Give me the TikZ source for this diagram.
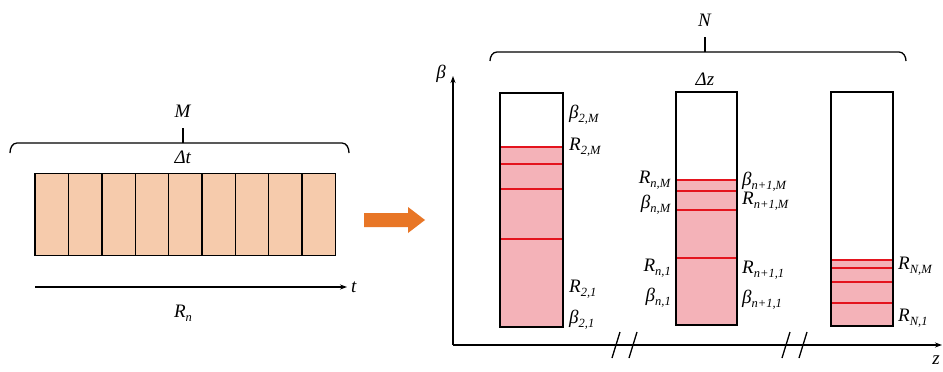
\documentclass[tikz,border=0pt]{standalone}
\usepackage{fontspec}
\setmainfont{Liberation Serif}
\usetikzlibrary{arrows.meta}
\definecolor{cellorange}{RGB}{246,203,172}
\definecolor{pinkfill}{RGB}{244,178,184}
\definecolor{redline}{RGB}{228,20,30}
\definecolor{arroworange}{RGB}{232,118,38}
\newcommand{\lab}[2]{\textit{#1}\raisebox{-0.45ex}{\fontsize{12.5}{13}\selectfont\textit{#2}}}
\tikzset{
  x=1pt,y=-1pt,
  lbl/.style={font=\fontsize{19}{21}\selectfont,inner sep=0pt},
  cell/.style={draw=black,line width=1.5pt,fill=cellorange},
  col/.style={draw=black,line width=1.3pt},
  rl/.style={draw=redline,line width=1.4pt},
  brace/.style={draw=black,line width=1.3pt},
  axis/.style={draw=black,line width=1.3pt,-{Stealth[length=7pt,width=5pt]}},
  brk/.style={draw=black,line width=1.3pt},
}
\begin{document}
\begin{tikzpicture}
\useasboundingbox[fill=white] (0,0) rectangle (943,372);
% ---------- left part ----------
\draw[brace] (10,153) to[out=90,in=180] (17,143) -- (342,143) to[out=0,in=90] (349,153);
\draw[brace] (183,143) -- (183,128);
\node[lbl] (M) at (183,111) {\textit{M}};
\node[lbl] (dt) at (183,157) {\textit{Δt}};
\foreach \xa/\xb in {35/68.5,68.5/102,102/135.5,135.5/168.5,168.5/202,202/235.5,235.5/268.5,268.5/302,302/335.5}{
  \draw[cell] (\xa,173.5) rectangle (\xb,255.5);
}
\coordinate (ta) at (35,287);
\coordinate (tb) at (347,287);
\draw[axis,line width=1.1pt] (ta) -- (tb);
\node[lbl,anchor=west] (t) at (351,287) {\textit{t}};
\node[lbl] (Rn) at (183,313) {\lab{R}{n}};
% ---------- orange arrow ----------
\fill[arroworange] (364,213) -- (408,213) -- (408,207) -- (425,220) -- (408,233) -- (408,227) -- (364,227) -- cycle;
% ---------- right part ----------
\coordinate (O) at (453,345);
\coordinate (btop) at (453,76);
\coordinate (zend) at (942,345);
\draw[axis] (O) -- (btop);
\draw[axis] (O) -- (zend);
\node[lbl] (beta) at (441,74) {\textit{β}};
\node[lbl] (z) at (936,360) {\textit{z}};
% break marks
\draw[brk] (612,358) -- (620,332);
\draw[brk] (629,358) -- (637,332);
\draw[brk] (782,358) -- (790,332);
\draw[brk] (799,358) -- (807,332);
% brace N
\draw[brace] (490,61) to[out=90,in=180] (497,52) -- (899,52) to[out=0,in=90] (906,61);
\draw[brace] (705,52) -- (705,37);
\node[lbl] (N) at (705,20) {\textit{N}};
\node[lbl] (dz) at (705,79) {\textit{Δz}};
% column 1
\fill[pinkfill] (500,147) rectangle (563,327);
\draw[rl] (500,147) -- (563,147);
\draw[rl] (500,164) -- (563,164);
\draw[rl] (500,189) -- (563,189);
\draw[rl] (500,239) -- (563,239);
\draw[col] (500,93) rectangle (563,327);
\node[lbl,anchor=west] (b2M) at (569,115) {\lab{β}{2,M}};
\node[lbl,anchor=west] (R2M) at (569,147) {\lab{R}{2,M}};
\node[lbl,anchor=west] (R21) at (569,289) {\lab{R}{2,1}};
\node[lbl,anchor=west] (b21) at (569,320) {\lab{β}{2,1}};
% column 2
\fill[pinkfill] (676,180) rectangle (737,325);
\draw[rl] (676,180) -- (737,180);
\draw[rl] (676,191) -- (737,191);
\draw[rl] (676,210) -- (737,210);
\draw[rl] (676,258) -- (737,258);
\draw[col] (676,92) rectangle (737,325);
\node[lbl,anchor=east] (RnM) at (671,180) {\lab{R}{n,M}};
\node[lbl,anchor=east] (bnM) at (671,205) {\lab{β}{n,M}};
\node[lbl,anchor=east] (Rn1) at (671,268) {\lab{R}{n,1}};
\node[lbl,anchor=east] (bn1) at (671,298) {\lab{β}{n,1}};
\node[lbl,anchor=west] (bn1M) at (742,182) {\lab{β}{n+1,M}};
\node[lbl,anchor=west] (Rn1M) at (742,201) {\lab{R}{n+1,M}};
\node[lbl,anchor=west] (Rn11) at (742,270) {\lab{R}{n+1,1}};
\node[lbl,anchor=west] (bn11) at (742,300) {\lab{β}{n+1,1}};
% column 3
\fill[pinkfill] (831,260) rectangle (893,326);
\draw[rl] (831,260) -- (893,260);
\draw[rl] (831,268) -- (893,268);
\draw[rl] (831,282) -- (893,282);
\draw[rl] (831,303) -- (893,303);
\draw[col] (831,92) rectangle (893,326);
\node[lbl,anchor=west] (RNM) at (898,266) {\lab{R}{N,M}};
\node[lbl,anchor=west] (RN1) at (898,318) {\lab{R}{N,1}};
\end{tikzpicture}
\end{document}
